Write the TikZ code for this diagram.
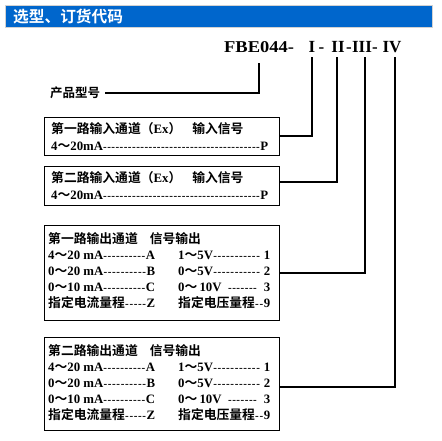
\documentclass[tikz,border=0pt]{standalone}
\usepackage{fontspec}
\usepackage{graphicx}
\setmainfont{Liberation Serif}
\newfontfamily\cjk{Noto Sans CJK SC}[BoldFont={Noto Sans CJK SC Bold}]
\newcommand\C[1]{{\cjk\bfseries #1}}
\newcommand\lrow[3]{\hbox to #1{#2\xleaders\hbox{\fontsize{11}{11}\selectfont-\kern0.4pt}\hfill #3}}
\definecolor{hdrblue}{RGB}{0,102,204}
\begin{document}
\begin{tikzpicture}[x=1pt,y=-1pt,
  txt/.style={inner sep=0pt, anchor=base west, font=\bfseries\fontsize{12.8}{13}\selectfont},
  box/.style={draw=black, line width=1pt, anchor=north west, inner sep=0pt, minimum width=235pt},
  link/.style={draw=black, line width=2pt},
  code/.style={inner sep=0pt, anchor=base, font=\bfseries\fontsize{17}{17}\selectfont},
]
\useasboundingbox (0,0) rectangle (442,441);
\fill[white] (0,0) rectangle (442,441);
% header
\node[draw=gray!35, fill=hdrblue, anchor=north west, minimum width=427pt, minimum height=22.5pt, inner sep=0pt, line width=0.8pt] (hdr) at (5,5) {};
\node[anchor=west, inner sep=0pt, text=white, font=\fontsize{15.7}{16}\selectfont] (hdrtxt) at (13,16.5) {\C{选型、订货代码}};
% code line
\node[inner sep=0pt, anchor=base west, font=\bfseries\fontsize{16.5}{17}\selectfont] (fbe) at (224,53) {\scalebox{1.12}[1]{FBE044-}};
\node[code] (r1) at (312,53) {I};
\node[code] (d1) at (321.5,53) {-};
\node[code] (r2) at (338,53) {II};
\node[code] (d2) at (349,53) {-};
\node[code] (r3) at (362,53) {III};
\node[code] (d3) at (375,53) {-};
\node[code] (r4) at (392,53) {IV};
\coordinate (t0) at (259,63);
\coordinate (t1) at (312,57);
\coordinate (t2) at (337,57);
\coordinate (t3) at (365,57);
\coordinate (t4) at (395,57);
% product model
\node[anchor=west, inner sep=0pt, font=\fontsize{12.5}{13}\selectfont] (pm) at (50,92.5) {\C{产品型号}};
\coordinate (pmend) at (105,93);
\draw[link] (pmend) -| (t0);
% box 1
\node[box, minimum height=38pt] (b1) at (44,117) {};
\node[txt] (b1t) at (51,133.5) {\C{第一路输入通道（}Ex\C{）}\hspace{11pt}\C{输入信号}};
\node[txt] (b1r) at (51,150.5) {\lrow{217pt}{4\C{～}20mA}{P}};
% box 2
\node[box, minimum height=39pt] (b2) at (44,166) {};
\node[txt] (b2t) at (51,182.5) {\C{第二路输入通道（}Ex\C{）}\hspace{11pt}\C{输入信号}};
\node[txt] (b2r) at (51,199.5) {\lrow{217pt}{4\C{～}20mA}{P}};
% box 3
\node[box, minimum height=95pt] (b3) at (44,225) {};
\node[txt] (b3t) at (48,243.5) {\C{第一路输出通道}\hspace{12pt}\C{信号输出}};
\node[txt] (b3a) at (48,259) {\lrow{107pt}{4\C{～}20 mA}{A}};
\node[txt] (b3b) at (48,275) {\lrow{107pt}{0\C{～}20 mA}{B}};
\node[txt] (b3c) at (48,291) {\lrow{107pt}{0\C{～}10 mA}{C}};
\node[txt] (b3d) at (48,307.5) {\lrow{107pt}{\C{指定电流量程}}{Z}};
\node[txt] (b3e) at (178,259) {\lrow{92pt}{1\C{～}5V}{\ 1}};
\node[txt] (b3f) at (178,275) {\lrow{92pt}{0\C{～}5V}{\ 2}};
\node[txt] (b3g) at (178,291) {\lrow{92pt}{0\C{～}\,10V\ \ }{\ \ 3}};
\node[txt] (b3h) at (178,307.5) {\lrow{92pt}{\C{指定电压量程}}{9}};
% box 4
\node[box, minimum height=93pt] (b4) at (44,337) {};
\node[txt] (b4t) at (48,355.5) {\C{第二路输出通道}\hspace{12pt}\C{信号输出}};
\node[txt] (b4a) at (48,371) {\lrow{107pt}{4\C{～}20 mA}{A}};
\node[txt] (b4b) at (48,387) {\lrow{107pt}{0\C{～}20 mA}{B}};
\node[txt] (b4c) at (48,403) {\lrow{107pt}{0\C{～}10 mA}{C}};
\node[txt] (b4d) at (48,419) {\lrow{107pt}{\C{指定电流量程}}{Z}};
\node[txt] (b4e) at (178,371) {\lrow{92pt}{1\C{～}5V}{\ 1}};
\node[txt] (b4f) at (178,387) {\lrow{92pt}{0\C{～}5V}{\ 2}};
\node[txt] (b4g) at (178,403) {\lrow{92pt}{0\C{～}\,10V\ \ }{\ \ 3}};
\node[txt] (b4h) at (178,419) {\lrow{92pt}{\C{指定电压量程}}{9}};
% connectors
\draw[link] (b1.east) -| (t1);
\draw[link] ([yshift=3.5pt]b2.east) -| (t2);
\draw[link] (b3.east) -| (t3);
\draw[link] ([yshift=-2.5pt]b4.east) -| (t4);
\end{tikzpicture}
\end{document}
